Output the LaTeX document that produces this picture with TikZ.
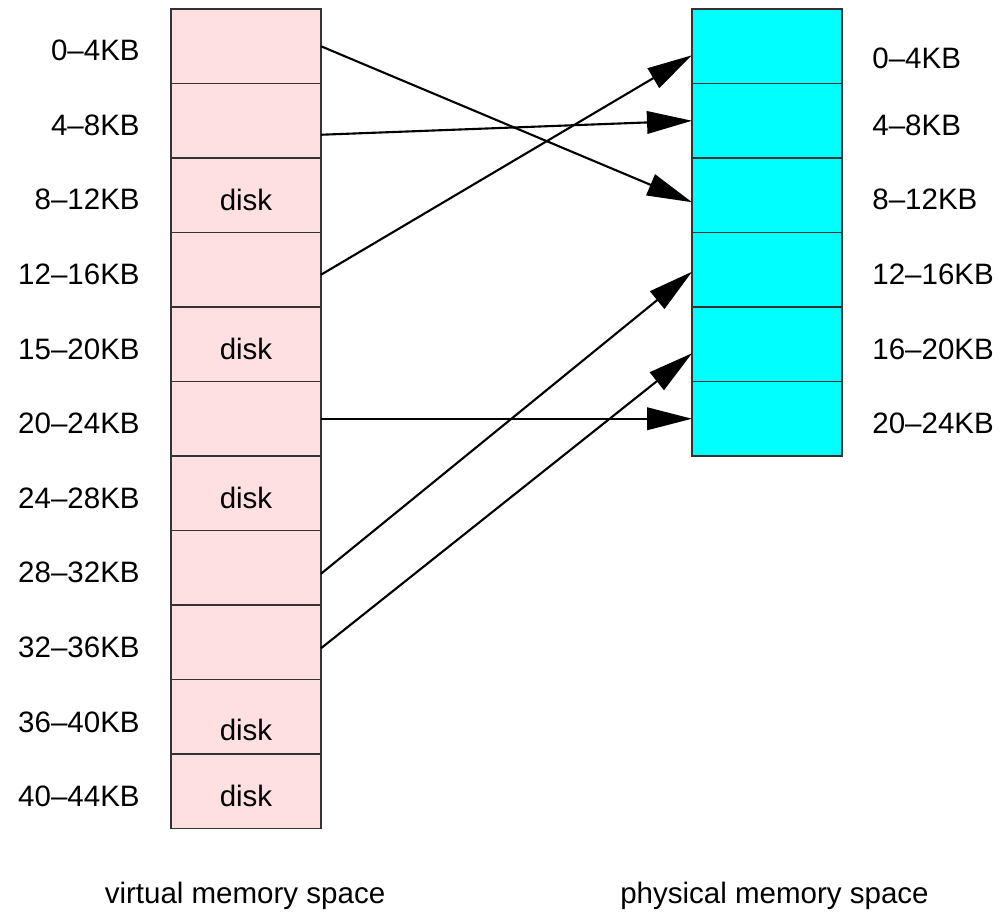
\documentclass[tikz,border=0pt]{standalone}
\usepackage{fontspec}
\setmainfont{Liberation Sans}
\usetikzlibrary{arrows.meta,calc}
\definecolor{framecyan}{RGB}{0,255,255}
\definecolor{pagepink}{RGB}{255,224,224}

\begin{document}
\begin{tikzpicture}[x=0.02cm, y=-0.02cm,
    vnode/.style={draw=black!80, fill=pagepink, line width=0.6pt, minimum width=3cm, minimum height=1.49cm, inner sep=0pt, outer sep=0pt},
    pnode/.style={vnode, fill=framecyan},
    lnode/.style={font=\fontsize{16.8}{20}\selectfont, inner sep=0pt},
    map/.style={-{Triangle[length=0.9cm,width=0.45cm]}, line width=1.2pt}]
    \useasboundingbox (0,0) rectangle (1001,912);

    % virtual pages
    \node[vnode] (v1) at (246,46.25) {};
    \node[vnode] (v2) at (246,120.75) {};
    \node[vnode] (v3) at (246,195.25) {};
    \node[vnode] (v4) at (246,269.75) {};
    \node[vnode] (v5) at (246,344.25) {};
    \node[vnode] (v6) at (246,418.75) {};
    \node[vnode] (v7) at (246,493.25) {};
    \node[vnode] (v8) at (246,567.75) {};
    \node[vnode] (v9) at (246,642.25) {};
    \node[vnode] (v10) at (246,716.75) {};
    \node[vnode] (v11) at (246,791.25) {};

    \node[lnode, anchor=base east] (v1l) at (140,61) {0–4KB};
    \node[lnode, anchor=base east] (v2l) at (140,135.5) {4–8KB};
    \node[lnode, anchor=base east] (v3l) at (140,210) {8–12KB};
    \node[lnode, anchor=base east] (v4l) at (140,284.5) {12–16KB};
    \node[lnode, anchor=base east] (v5l) at (140,359) {15–20KB};
    \node[lnode, anchor=base east] (v6l) at (140,433.5) {20–24KB};
    \node[lnode, anchor=base east] (v7l) at (140,508) {24–28KB};
    \node[lnode, anchor=base east] (v8l) at (140,582.5) {28–32KB};
    \node[lnode, anchor=base east] (v9l) at (140,657) {32–36KB};
    \node[lnode, anchor=base east] (v10l) at (140,732) {36–40KB};
    \node[lnode, anchor=base east] (v11l) at (140,806) {40–44KB};

    \node[lnode, anchor=base] (d3) at (246,211) {disk};
    \node[lnode, anchor=base] (d5) at (246,359.5) {disk};
    \node[lnode, anchor=base] (d7) at (246,508) {disk};
    \node[lnode, anchor=base] (d10) at (246,740) {disk};
    \node[lnode, anchor=base] (d11) at (246,806.5) {disk};

    % physical frames
    \node[pnode] (p1) at (767,46.25) {};
    \node[pnode] (p2) at (767,120.75) {};
    \node[pnode] (p3) at (767,195.25) {};
    \node[pnode] (p4) at (767,269.75) {};
    \node[pnode] (p5) at (767,344.25) {};
    \node[pnode] (p6) at (767,418.75) {};

    \node[lnode, anchor=base west] (p1l) at (872,69) {0–4KB};
    \node[lnode, anchor=base west] (p2l) at (872,135.5) {4–8KB};
    \node[lnode, anchor=base west] (p3l) at (872,210) {8–12KB};
    \node[lnode, anchor=base west] (p4l) at (872,284.5) {12–16KB};
    \node[lnode, anchor=base west] (p5l) at (872,359) {16–20KB};
    \node[lnode, anchor=base west] (p6l) at (872,433.5) {20–24KB};

    \node[lnode, anchor=base] (vt) at (245,903) {virtual memory space};
    \node[lnode, anchor=base] (pt) at (774.5,903) {physical memory space};

    \draw[map] (v1.east) -- ($(p3.west)+(0,7)$);
    \draw[map] ($(v2.east)+(0,14)$) -- (p2.west);
    \draw[map] ($(v4.east)+(0,5)$) -- ($(p1.west)+(0,9)$);
    \draw[map] (v6.east) -- (p6.west);
    \draw[map] ($(v8.east)+(0,6)$) -- ($(p4.west)+(0,2)$);
    \draw[map] ($(v9.east)+(0,6)$) -- ($(p5.west)+(0,9)$);
\end{tikzpicture}
\end{document}
